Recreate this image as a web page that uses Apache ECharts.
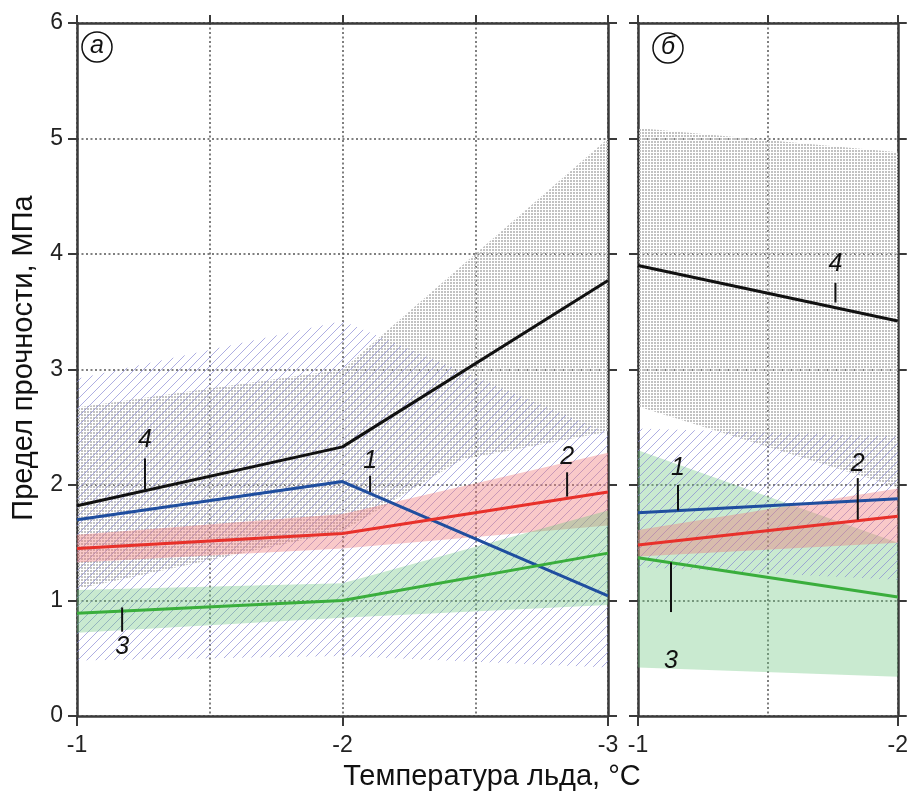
<!DOCTYPE html>
<html>
<head>
<meta charset="utf-8">
<script src="https://cdn.jsdelivr.net/npm/echarts@6/dist/echarts.min.js"></script>
<style>
  html, body { margin: 0; padding: 0; background: #fff; }
  #chart { width: 911px; height: 792px; }
</style>
</head>
<body>
<div id="chart"></div>
<script>
// ---- панель (а): температура -1 .. -3 °C ----
const tempA = [-1, -2, -3];
const line1A = [1.70, 2.03, 1.04];
const line2A = [1.45, 1.58, 1.94];
const line3A = [0.89, 1.00, 1.41];
const line4A = [1.82, 2.33, 3.77];

// полосы разброса (а)
const grayTempA = [-1, -2, -2.45, -3];
const grayLowA = [1.10, 1.60, 2.22, 2.46];
const grayHighA = [2.67, 3.00, 3.90, 5.00];
const hatchLowA = [0.48, 0.52, 0.42];
const hatchHighA = [2.92, 3.42, 2.45];
const redLowA = [1.33, 1.45, 1.65];
const redHighA = [1.57, 1.75, 2.28];
const greenLowA = [0.72, 0.85, 0.96];
const greenHighA = [1.09, 1.15, 1.78];

// ---- панель (б): температура -1 .. -2 °C ----
const tempB = [-1, -2];
const line1B = [1.76, 1.88];
const line2B = [1.48, 1.73];
const line3B = [1.37, 1.03];
const line4B = [3.90, 3.42];

const grayLowB = [2.68, 1.98];
const grayHighB = [5.09, 4.88];
const hatchLowB = [1.29, 1.18];
const hatchHighB = [2.49, 2.42];
const redLowB = [1.38, 1.50];
const redHighB = [1.61, 1.97];
const greenLowB = [0.42, 0.34];
const greenHighB = [2.30, 1.50];

// номера кривых: [температура, начало выноски, конец выноски, центр текста, текст]
const notesA = [
  [-1.256, 1.96, 2.23, 2.39, '4'],
  [-2.104, 1.94, 2.08, 2.21, '1'],
  [-2.846, 1.90, 2.11, 2.24, '2'],
  [-1.170, 0.94, 0.73, 0.60, '3']
];
const notesB = [
  [-1.760, 3.58, 3.75, 3.91, '4'],
  [-1.154, 1.78, 2.00, 2.15, '1'],
  [-1.846, 1.70, 2.06, 2.18, '2'],
  [-1.127, 1.33, 0.90, 0.48, '3']
];

const FONT = '"Liberation Sans", Arial, sans-serif';
const AXIS_COLOR = '#3a3a3a';
const GRID_LINE = { color: '#555', width: 1.5, type: [2, 2.5] };

// узоры заливки
function makeStipple() {
  const c = document.createElement('canvas');
  c.width = 3; c.height = 3;
  const ctx = c.getContext('2d');
  ctx.fillStyle = '#c2c2c2';
  ctx.fillRect(0, 0, 2, 2);
  return { image: c, repeat: 'repeat' };
}
function makeHatch() {
  const s = 9;
  const c = document.createElement('canvas');
  c.width = s; c.height = s;
  const ctx = c.getContext('2d');
  ctx.strokeStyle = 'rgba(130, 130, 210, 0.65)';
  ctx.lineWidth = 1;
  ctx.beginPath();
  ctx.moveTo(0, s); ctx.lineTo(s, 0);
  ctx.moveTo(-1, 1); ctx.lineTo(1, -1);
  ctx.moveTo(s - 1, s + 1); ctx.lineTo(s + 1, s - 1);
  ctx.stroke();
  return { image: c, repeat: 'repeat' };
}
const stipple = makeStipple();
const hatch = makeHatch();

function band(name, xi, xs, low, high, fill, z) {
  return {
    name: name, type: 'custom', xAxisIndex: xi, yAxisIndex: xi * 2,
    silent: true, z: z,
    data: [[xs[0], high[0]]],
    renderItem: function (params, api) {
      const pts = [];
      xs.forEach((x, i) => pts.push(api.coord([x, high[i]])));
      for (let i = xs.length - 1; i >= 0; i--) pts.push(api.coord([xs[i], low[i]]));
      return { type: 'polygon', shape: { points: pts }, style: { fill: fill } };
    }
  };
}

function curve(name, xi, xs, ys, color) {
  return {
    name: name, type: 'line', xAxisIndex: xi, yAxisIndex: xi * 2,
    data: xs.map((x, i) => [x, ys[i]]),
    symbol: 'none', z: 10, silent: true,
    lineStyle: { color: color, width: 3 }
  };
}

function notes(xi, list) {
  return {
    type: 'custom', xAxisIndex: xi, yAxisIndex: xi * 2, z: 12, silent: true,
    data: list.map(n => [n[0], n[1], n[2], n[3]]),
    renderItem: function (params, api) {
      const x = api.value(0);
      const a = api.coord([x, api.value(1)]);
      const b = api.coord([x, api.value(2)]);
      const t = api.coord([x, api.value(3)]);
      return {
        type: 'group',
        children: [
          { type: 'line', shape: { x1: a[0], y1: a[1], x2: b[0], y2: b[1] },
            style: { stroke: '#111', lineWidth: 2 } },
          { type: 'text', x: t[0], y: t[1],
            style: { text: list[params.dataIndex][4], fill: '#111', font: 'italic 25px ' + FONT,
                     align: 'center', verticalAlign: 'middle' } }
        ]
      };
    }
  };
}

function bottomAxis(grid, min) {
  return {
    type: 'value', gridIndex: grid, position: 'bottom', min: min, max: -1, interval: 1, inverse: true,
    axisLine: { onZero: false, lineStyle: { color: AXIS_COLOR, width: 2.5 } },
    axisTick: { length: 10, lineStyle: { color: AXIS_COLOR, width: 2 } },
    axisLabel: { fontSize: 23, color: '#222', fontFamily: FONT, margin: 18 },
    splitLine: { show: true, lineStyle: GRID_LINE },
    minorTick: { show: false, splitNumber: 2 },
    minorSplitLine: { show: true, lineStyle: GRID_LINE }
  };
}
function topAxis(grid, min) {
  return {
    type: 'value', gridIndex: grid, position: 'top', min: min, max: -1, interval: 0.5, inverse: true,
    axisLine: { onZero: false, lineStyle: { color: AXIS_COLOR, width: 2.5 } },
    axisTick: { length: 8, lineStyle: { color: AXIS_COLOR, width: 2 } },
    axisLabel: { show: false },
    splitLine: { show: false }
  };
}
function yAxis(grid, pos, labels, split) {
  return {
    type: 'value', gridIndex: grid, position: pos, min: 0, max: 6, interval: 1,
    axisLine: { show: true, onZero: false, lineStyle: { color: AXIS_COLOR, width: 2.5 } },
    axisTick: { show: true, length: 9, lineStyle: { color: AXIS_COLOR, width: 2 } },
    axisLabel: { show: labels, fontSize: 23, color: '#222', fontFamily: FONT, margin: 14 },
    splitLine: { show: split, lineStyle: GRID_LINE }
  };
}

const chart = echarts.init(document.getElementById('chart'));

const option = {
  backgroundColor: '#fff',
  animation: false,
  grid: [
    { left: 77, top: 23, width: 531, height: 693 },
    { left: 638, top: 23, width: 267, height: 693 }
  ],
  xAxis: [bottomAxis(0, -3), bottomAxis(1, -2), topAxis(0, -3), topAxis(1, -2)],
  yAxis: [yAxis(0, 'left', true, true), yAxis(0, 'right', false, false), yAxis(1, 'left', false, true), yAxis(1, 'right', false, false)],
  series: [
    band('gray а', 0, grayTempA, grayLowA, grayHighA, stipple, 2),
    band('hatch а', 0, tempA, hatchLowA, hatchHighA, hatch, 3),
    band('red а', 0, tempA, redLowA, redHighA, 'rgba(240, 120, 120, 0.40)', 4),
    band('green а', 0, tempA, greenLowA, greenHighA, 'rgba(100, 195, 120, 0.35)', 4),
    curve('4 а', 0, tempA, line4A, '#111'),
    curve('1 а', 0, tempA, line1A, '#1f4e9f'),
    curve('2 а', 0, tempA, line2A, '#e8302a'),
    curve('3 а', 0, tempA, line3A, '#3aae3c'),
    notes(0, notesA),

    band('gray б', 1, tempB, grayLowB, grayHighB, stipple, 2),
    band('green б', 1, tempB, greenLowB, greenHighB, 'rgba(100, 195, 120, 0.35)', 3),
    band('hatch б', 1, tempB, hatchLowB, hatchHighB, hatch, 4),
    band('red б', 1, tempB, redLowB, redHighB, 'rgba(240, 120, 120, 0.40)', 4),
    curve('4 б', 1, tempB, line4B, '#111'),
    curve('1 б', 1, tempB, line1B, '#1f4e9f'),
    curve('2 б', 1, tempB, line2B, '#e8302a'),
    curve('3 б', 1, tempB, line3B, '#3aae3c'),
    notes(1, notesB)
  ],
  graphic: [
    { type: 'circle', shape: { cx: 97, cy: 47, r: 15 }, style: { fill: '#fff', stroke: '#111', lineWidth: 1.5 }, z: 20 },
    { type: 'text', x: 97, y: 46, z: 21,
      style: { text: 'а', font: 'italic 25px ' + FONT, fill: '#111', align: 'center', verticalAlign: 'middle' } },
    { type: 'circle', shape: { cx: 668, cy: 48, r: 15 }, style: { fill: '#fff', stroke: '#111', lineWidth: 1.5 }, z: 20 },
    { type: 'text', x: 668, y: 47, z: 21,
      style: { text: 'б', font: 'italic 25px ' + FONT, fill: '#111', align: 'center', verticalAlign: 'middle' } },
    { type: 'text', x: 492, y: 777, z: 21,
      style: { text: 'Температура льда, °С', font: '29px ' + FONT, fill: '#111', align: 'center', verticalAlign: 'middle' } },
    { type: 'text', x: 24, y: 358, rotation: Math.PI / 2, z: 21,
      style: { text: 'Предел прочности, МПа', font: '29px ' + FONT, fill: '#111', align: 'center', verticalAlign: 'middle' } }
  ]
};

chart.setOption(option);
</script>
</body>
</html>
